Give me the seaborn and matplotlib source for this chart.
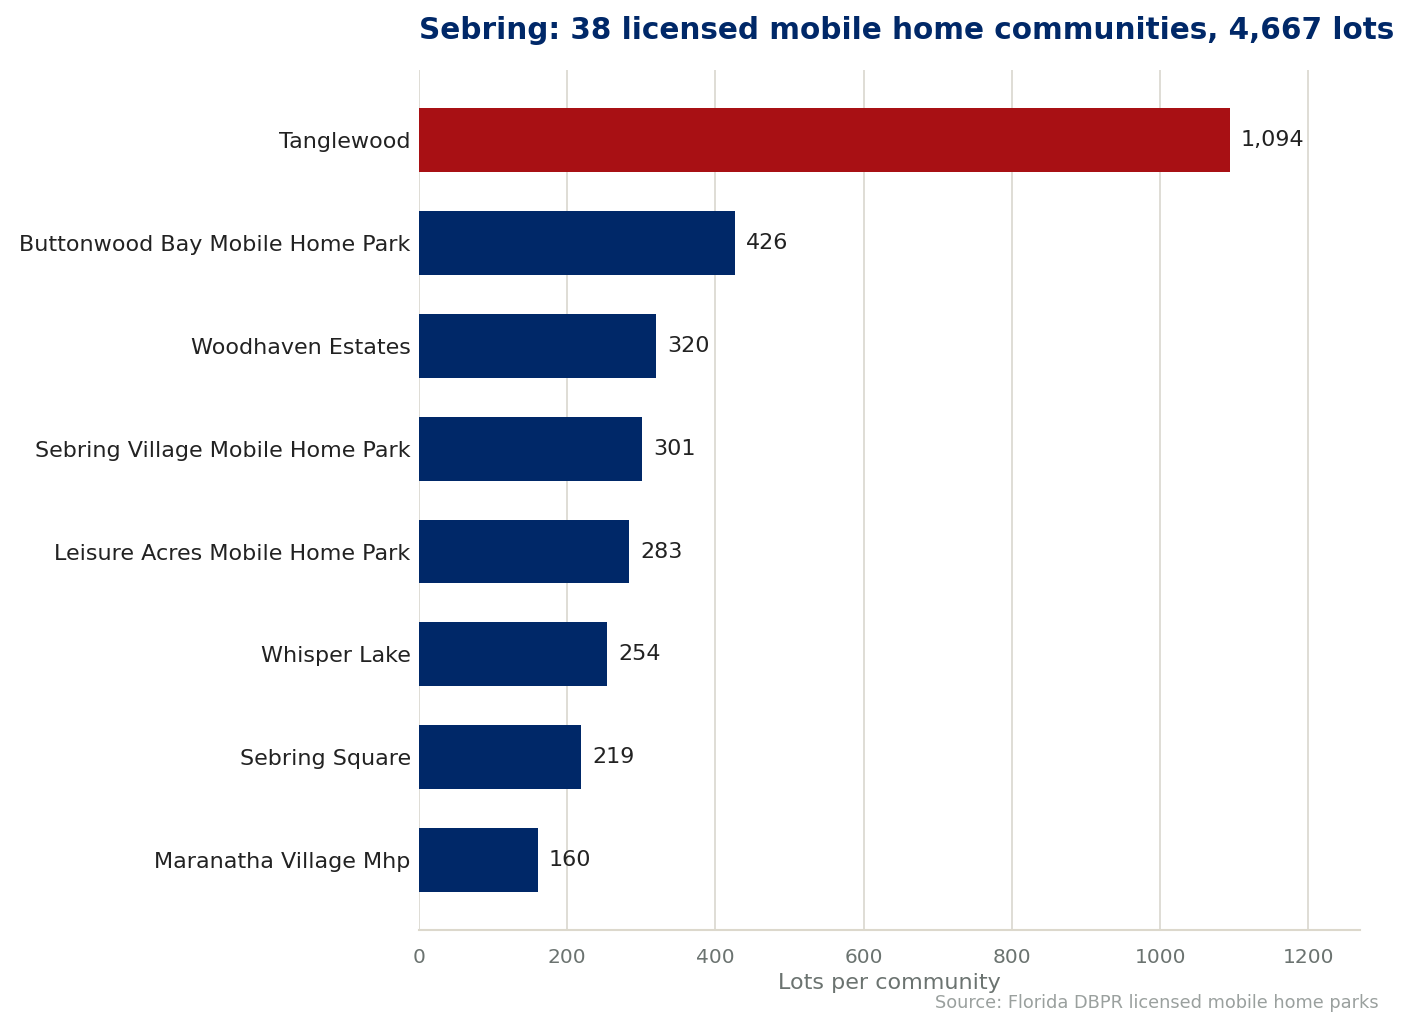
import pandas as pd
import matplotlib
matplotlib.use("Agg")
import matplotlib.pyplot as plt
import seaborn as sns

communities = ["Tanglewood", "Buttonwood Bay Mobile Home Park", "Woodhaven Estates",
               "Sebring Village Mobile Home Park", "Leisure Acres Mobile Home Park",
               "Whisper Lake", "Sebring Square", "Maranatha Village Mhp"]
lots = [1094, 426, 320, 301, 283, 254, 219, 160]
highlight = ["Tanglewood"]

NAVY = "#002868"
RED = "#A81014"

df = pd.DataFrame({"community": communities, "lots": lots})
palette = {c: (RED if c in highlight else NAVY) for c in communities}

sns.set_style("white")
plt.rcParams["font.family"] = ["DejaVu Sans"]

fig, ax = plt.subplots(figsize=(14.11, 10.30), dpi=100)
fig.subplots_adjust(left=0.297, right=0.964, top=0.932, bottom=0.097)

sns.barplot(data=df, y="community", x="lots", hue="community", palette=palette,
            order=communities, orient="h", width=0.62, legend=False, ax=ax,
            saturation=1, linewidth=0)

for i, v in enumerate(lots):
    ax.text(v + 15, i, f"{v:,}", va="center", ha="left", fontsize=16, color="#222222")

ax.set_xlim(0, 1270)
ax.set_ylim(len(communities) - 1 + 0.68, -0.68)
ax.set_xticks(range(0, 1201, 200))
ax.grid(axis="x", color="#dcdad2", linewidth=1.3)
ax.set_axisbelow(True)
for s in ["top", "right", "left"]:
    ax.spines[s].set_visible(False)
ax.spines["bottom"].set_color("#dcd8cc")
ax.spines["bottom"].set_linewidth(1.5)

ax.tick_params(axis="y", length=0, pad=6, labelsize=16, labelcolor="#222222")
ax.tick_params(axis="x", length=5, color="#6b7370", labelsize=14.5, labelcolor="#6b7370", pad=8)
ax.set_ylabel("")
ax.set_xlabel("Lots per community", fontsize=16, color="#6b7370", labelpad=4)

ax.set_title("Sebring: 38 licensed mobile home communities, 4,667 lots", loc="left",
             fontsize=21.25, fontweight="bold", color=NAVY, pad=22)
fig.text(0.977, 0.017, "Source: Florida DBPR licensed mobile home parks", ha="right",
         va="bottom", fontsize=12.8, color="#9aa09e")

fig.savefig("out.png", dpi=100)
